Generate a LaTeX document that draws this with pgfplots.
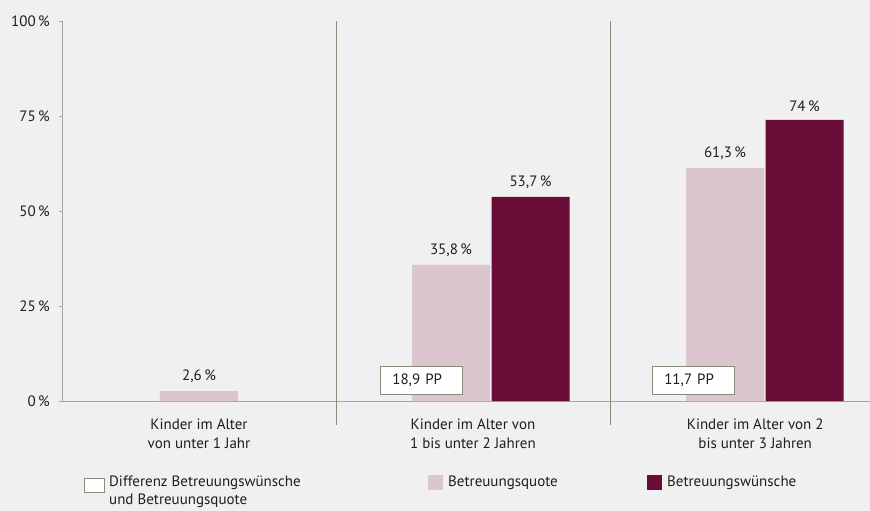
\documentclass[border=0pt]{standalone}
\usepackage{pgfplots}
\pgfplotsset{compat=1.18}
\usepackage{fontspec}
\setmainfont{PT Sans}
\usetikzlibrary{backgrounds}
\definecolor{bg}{HTML}{F0F0F0}
\definecolor{quota}{HTML}{DBC6CD}
\definecolor{wish}{HTML}{6A0D36}
\definecolor{sep}{HTML}{8A8A78}
\definecolor{axgray}{HTML}{A6A6A6}
\definecolor{txt}{HTML}{1E1E1E}
\begin{document}
\fontsize{15bp}{19bp}\selectfont
\begin{tikzpicture}[every node/.style={text=txt}]
\begin{axis}[name=ax, scale only axis, width=808bp, height=380bp,
  xmin=-0.5, xmax=2.449, ymin=0, ymax=100,
  axis x line=bottom, axis y line=left,
  axis line style={draw=axgray, -, line width=0.8pt},
  ytick={0,25,50,75,100},
  yticklabels={0\,\%,25\,\%,50\,\%,75\,\%,100\,\%},
  ytick style={draw=axgray, line width=0.8pt},
  tick align=outside, major tick length=3bp,
  yticklabel style={xshift=-4bp},
  xtick={0,1,2.03},
  xtick style={draw=none},
  xticklabels={Kinder im Alter\\von unter 1 Jahr, Kinder im Alter von\\1 bis unter 2 Jahren, Kinder im Alter von 2\\bis unter 3 Jahren},
  xticklabel style={align=center, yshift=-10bp},
  /pgf/number format/assume math mode=true,
  clip=false,
  ybar, bar width=78bp,
  every axis plot/.append style={bar shift=0pt, draw=none},
  nodes near coords={\pgfmathprintnumber[use comma,fixed,precision=1]{\pgfplotspointmeta}\,\%},
  nodes near coords style={yshift=3bp, /pgf/number format/assume math mode=true},
]
\addplot[fill=quota] coordinates {(0,2.6) (0.92,35.8) (1.92,61.3)};
\addplot[fill=wish] coordinates {(1.21,53.7) (2.21,74)};
% separators
\draw[sep, line width=0.8pt] (axis cs:0.5,100) -- (axis cs:0.5,-6.3);
\draw[sep, line width=0.8pt] (axis cs:1.5,100) -- (axis cs:1.5,-6.3);
% difference boxes
\node[draw=sep, fill=white, line width=0.8pt, anchor=south west, text width=58bp, inner xsep=12bp, inner ysep=0pt, minimum height=28bp, align=left] at (axis cs:0.6606,1.58) {18,9 PP};
\node[draw=sep, fill=white, line width=0.8pt, anchor=south west, text width=58bp, inner xsep=12bp, inner ysep=0pt, minimum height=28bp, align=left] at (axis cs:1.653,1.58) {11,7 PP};
% legend
\draw[sep, fill=white, line width=0.8pt] (axis cs:-0.4197,-20.26) rectangle (axis cs:-0.3467,-23.95);
\node[anchor=west, align=left, inner sep=0pt, font=\fontsize{15bp}{18bp}\selectfont] at (axis cs:-0.3285,-24.0) {Differenz Betreuungswünsche\\und Betreuungsquote};
\fill[quota] (axis cs:0.8358,-19.47) rectangle (axis cs:0.8905,-23.42);
\node[anchor=west, inner sep=0pt] at (axis cs:0.9088,-21.6) {Betreuungsquote};
\fill[wish] (axis cs:1.635,-19.47) rectangle (axis cs:1.690,-23.42);
\node[anchor=west, inner sep=0pt] at (axis cs:1.708,-21.6) {Betreuungswünsche};
\end{axis}
\begin{scope}[on background layer]
\fill[bg] ([shift={(-62bp,-110bp)}]ax.south west) rectangle ([shift={(0bp,21bp)}]ax.north east);
\end{scope}
\pgfresetboundingbox
\path[use as bounding box] ([shift={(-62bp,-110bp)}]ax.south west) rectangle ([shift={(0bp,21bp)}]ax.north east);
\end{tikzpicture}
\end{document}
